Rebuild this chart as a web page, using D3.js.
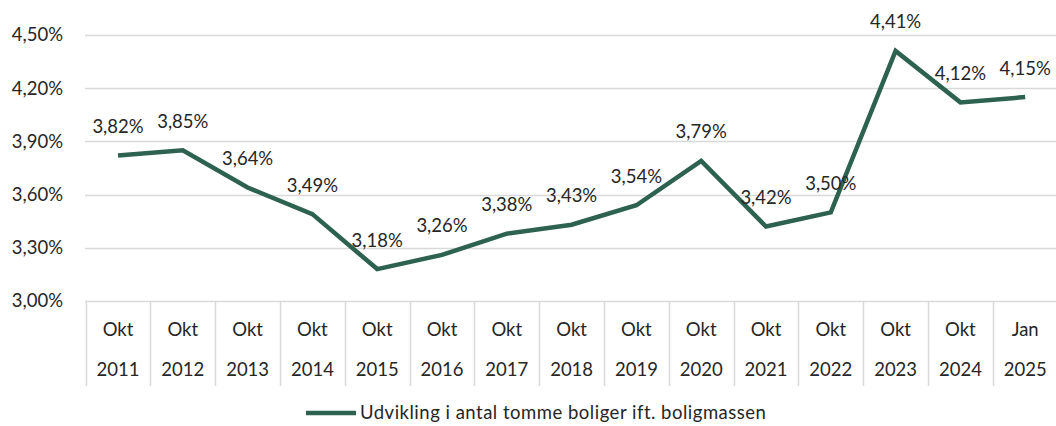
<!DOCTYPE html>
<html>
<head>
<meta charset="utf-8">
<script src="https://cdn.jsdelivr.net/npm/d3@7"></script>
<style>
  body { margin: 0; background: #fff; }
  svg text { font-family: Lato, "Open Sans", sans-serif; fill: #262626; font-size: 18.5px; }
</style>
</head>
<body>
<div id="chart"></div>
<script>
const months = ["Okt", "Okt", "Okt", "Okt", "Okt", "Okt", "Okt", "Okt", "Okt", "Okt", "Okt", "Okt", "Okt", "Okt", "Jan"];
const years = ["2011", "2012", "2013", "2014", "2015", "2016", "2017", "2018", "2019", "2020", "2021", "2022", "2023", "2024", "2025"];
const values = [3.82, 3.85, 3.64, 3.49, 3.18, 3.26, 3.38, 3.43, 3.54, 3.79, 3.42, 3.50, 4.41, 4.12, 4.15];
const yTicks = [3.0, 3.3, 3.6, 3.9, 4.2, 4.5];
const seriesName = "Udvikling i antal tomme boliger ift. boligmassen";

const width = 1056, height = 426;
const lineColor = "#2d6150";
const pct = v => v.toFixed(2).replace(".", ",") + "%";

const svg = d3.select("#chart")
  .append("svg")
    .attr("width", width)
    .attr("height", height);

const x = d3.scaleBand()
  .domain(years)
  .range([85.6, 1057.6]);

const y = d3.scaleLinear()
  .domain([3.0, 4.5])
  .range([301, 35]);

// horizontal gridlines
svg.append("g")
  .selectAll("line")
  .data(yTicks)
  .enter()
  .append("line")
    .attr("x1", 85)
    .attr("x2", width)
    .attr("y1", d => Math.round(y(d)) + 0.5)
    .attr("y2", d => Math.round(y(d)) + 0.5)
    .attr("stroke", "#d9d9d9")
    .attr("stroke-width", 1.5);

// y labels
svg.append("g")
  .selectAll("text")
  .data(yTicks)
  .enter()
  .append("text")
    .attr("x", 63)
    .attr("y", d => y(d))
    .attr("dy", "0.35em")
    .attr("text-anchor", "end")
    .text(pct);

// category separators under the axis
const bounds = years.map(d => x(d)).concat([x.range()[1]]);
svg.append("g")
  .selectAll("line")
  .data(bounds)
  .enter()
  .append("line")
    .attr("x1", d => Math.round(d) + 0.5)
    .attr("x2", d => Math.round(d) + 0.5)
    .attr("y1", 301)
    .attr("y2", 386)
    .attr("stroke", "#d9d9d9")
    .attr("stroke-width", 1.5);

const cats = svg.append("g")
  .selectAll("g")
  .data(years)
  .enter()
  .append("g")
    .attr("transform", d => `translate(${x(d) + x.bandwidth() / 2},0)`);

cats.append("text")
  .attr("y", 330)
  .attr("dy", "0.35em")
  .attr("text-anchor", "middle")
  .text((d, i) => months[i]);

cats.append("text")
  .attr("y", 370)
  .attr("dy", "0.35em")
  .attr("text-anchor", "middle")
  .text(d => d);

// the line
const line = d3.line()
  .x((d, i) => x(years[i]) + x.bandwidth() / 2)
  .y(d => y(d));

svg.append("path")
  .datum(values)
  .attr("d", line)
  .attr("fill", "none")
  .attr("stroke", lineColor)
  .attr("stroke-width", 4.5)
  .attr("stroke-linejoin", "miter");

// data labels
svg.append("g")
  .selectAll("text")
  .data(values)
  .enter()
  .append("text")
    .attr("x", (d, i) => x(years[i]) + x.bandwidth() / 2)
    .attr("y", d => y(d) - 29)
    .attr("dy", "0.35em")
    .attr("text-anchor", "middle")
    .text(pct);

// legend
const legend = svg.append("g")
  .attr("transform", "translate(306,413)");

legend.append("line")
  .attr("x1", 0)
  .attr("x2", 50)
  .attr("stroke", lineColor)
  .attr("stroke-width", 4.5);

legend.append("text")
  .attr("x", 54)
  .attr("dy", "0.35em")
  .style("letter-spacing", "0.5px")
  .text(seriesName);
</script>
</body>
</html>
